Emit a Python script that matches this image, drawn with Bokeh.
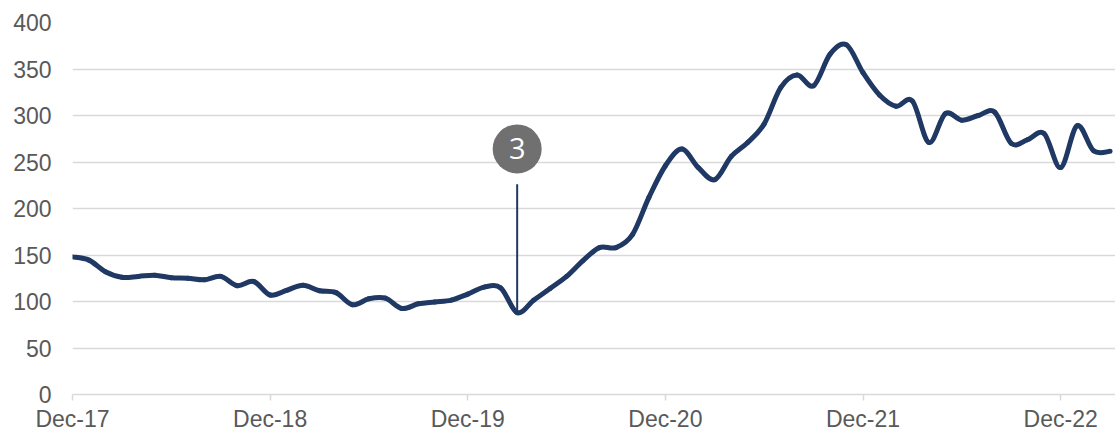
import numpy as np
from bokeh.plotting import figure
from bokeh.models import FixedTicker, Range1d
from bokeh.core.properties import value
from bokeh.embed import file_html
from bokeh.resources import INLINE

# ---- data ----
tick_labels = ["Dec-17", "Dec-18", "Dec-19", "Dec-20", "Dec-21", "Dec-22"]
tick_months = [0, 12, 24, 36, 48, 60]
y_ticks = [0, 50, 100, 150, 200, 250, 300, 350, 400]

# monthly values, Dec-17 .. Mar-23
values = [
    148, 144.5, 132, 126, 127, 128.3, 125.5, 125, 123.3, 127, 117, 121.5,   # Dec-17..Nov-18
    107, 112, 117.5, 111.5, 109.5, 96.5, 103, 103.6, 92.5, 97.5, 99.5, 101.5,  # Dec-18..Nov-19
    108, 115.5, 114.5, 88, 101.4, 114, 127, 144, 158, 158, 172, 212,         # Dec-19..Nov-20
    246, 264, 244, 231, 256, 271, 291, 330, 343.5, 332, 366, 376,            # Dec-20..Nov-21
    346, 322, 310, 315.5, 271, 302, 295, 300, 303.5, 270, 274, 280.6,        # Dec-21..Nov-22
    244, 289, 262, 261.5,                                                    # Dec-22..Mar-23
]

callout_month = 27          # Mar-20
callout_label = "3"
callout_value = 264         # bubble centre
callout_line_top = 226

months = np.arange(len(values))
y = np.array(values, dtype=float)
x = months.astype(float)

# smooth (Excel-like) curve: Catmull-Rom converted to cubic Bezier segments
n = len(y)
yp = np.concatenate([[y[0]], y, [y[-1]]])
xp = np.concatenate([[x[0]], x, [x[-1]]])
x0, y0 = x[:-1], y[:-1]
x1, y1 = x[1:], y[1:]
cx0 = x0 + (xp[2:n + 1] - xp[0:n - 1]) / 6
cy0 = y0 + (yp[2:n + 1] - yp[0:n - 1]) / 6
cx1 = x1 - (xp[3:n + 2] - xp[1:n]) / 6
cy1 = y1 - (yp[3:n + 2] - yp[1:n]) / 6

NAVY = "#1F3864"
GRID = "#D9D9D9"
TXT = "#595959"
FONT = "Liberation Sans"

p = figure(width=1115, height=434, output_backend="svg", toolbar_location=None,
           x_range=Range1d(0, 63.33), y_range=Range1d(0, 400),
           min_border_left=72, min_border_right=0, min_border_top=22, min_border_bottom=40)
p.outline_line_color = None
p.background_fill_color = "white"
p.border_fill_color = "white"

p.xgrid.grid_line_color = None
p.ygrid.grid_line_color = GRID
p.ygrid.grid_line_width = 1.5
p.ygrid.ticker = FixedTicker(ticks=y_ticks)

# y axis
p.yaxis.ticker = FixedTicker(ticks=y_ticks)
p.yaxis.axis_line_color = None
p.yaxis.major_tick_line_color = None
p.yaxis.minor_tick_line_color = None
p.yaxis.major_tick_in = 0
p.yaxis.major_tick_out = 0
p.yaxis.major_label_standoff = 21
p.yaxis.major_label_text_font = FONT
p.yaxis.major_label_text_font_size = "23px"
p.yaxis.major_label_text_color = TXT

# x axis
p.xaxis.ticker = FixedTicker(ticks=tick_months)
p.xaxis.major_label_overrides = {m: lab for m, lab in zip(tick_months, tick_labels)}
p.xaxis.axis_line_color = GRID
p.xaxis.axis_line_width = 1.5
p.xaxis.major_tick_line_color = GRID
p.xaxis.major_tick_line_width = 1.5
p.xaxis.major_tick_in = 0
p.xaxis.major_tick_out = 6
p.xaxis.minor_tick_line_color = None
p.xaxis.major_label_standoff = 5
p.xaxis.major_label_text_font = FONT
p.xaxis.major_label_text_font_size = "23px"
p.xaxis.major_label_text_color = TXT

# callout line
p.segment(x0=[callout_month], y0=[callout_line_top], x1=[callout_month],
          y1=[values[callout_month]], line_color=NAVY, line_width=2)

# main series
p.bezier(x0=x0, y0=y0, x1=x1, y1=y1, cx0=cx0, cy0=cy0, cx1=cx1, cy1=cy1,
         line_color=NAVY, line_width=5, line_cap="round", line_join="round")

# callout bubble
p.scatter(x=[callout_month], y=[callout_value], size=49, marker="circle",
          fill_color="#707070", line_color=None)
p.text(x=[callout_month], y=[callout_value], text=[callout_label],
       text_align="center", text_baseline="middle", text_color="white",
       text_font_size="29px", text_font=value("Open Sans"))

open("out.html", "w").write(file_html(p, INLINE))
